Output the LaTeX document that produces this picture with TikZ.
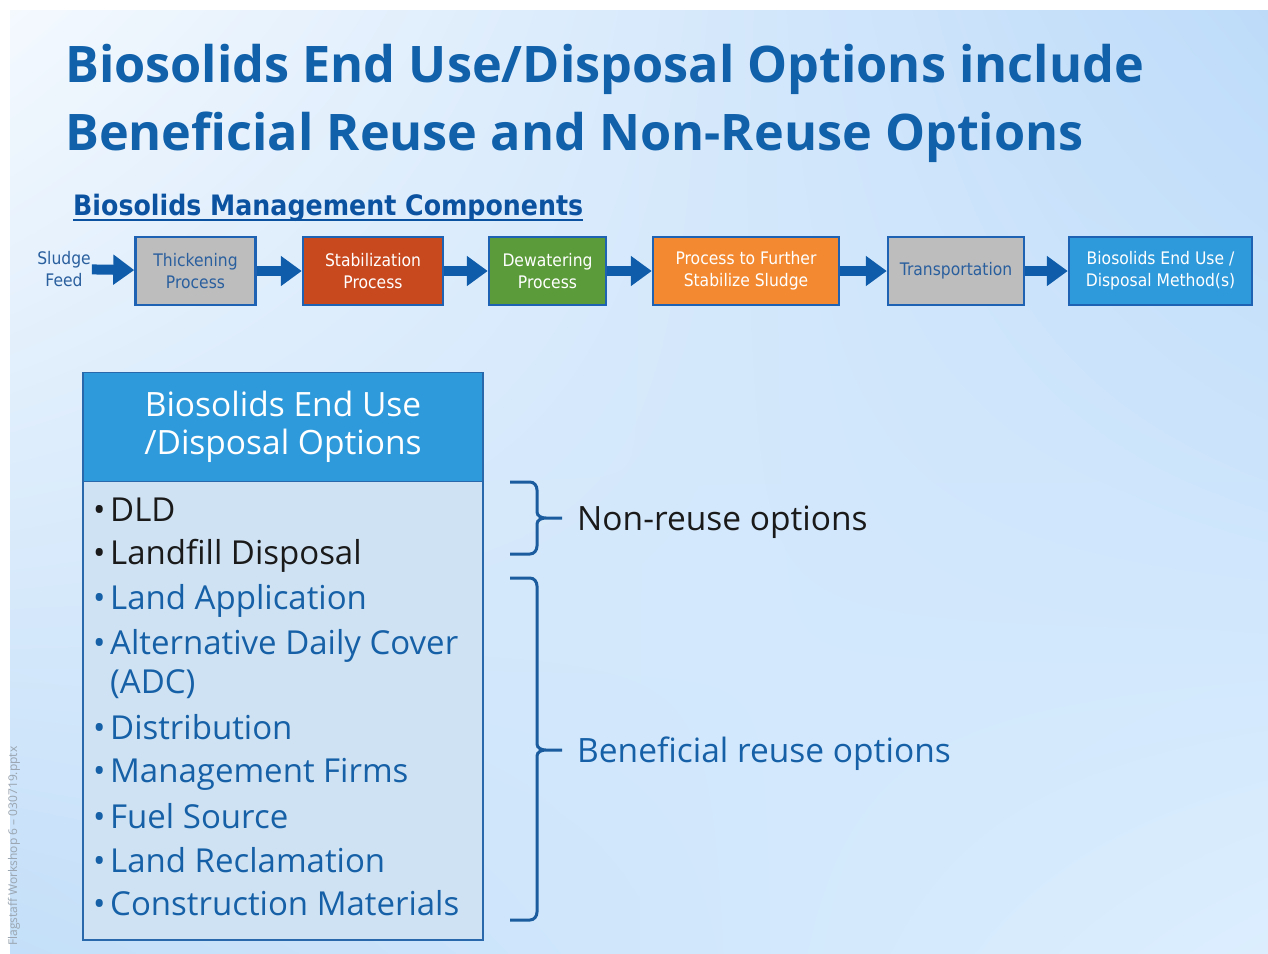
\documentclass[tikz,border=0pt]{standalone}
\usepackage{fontspec}
\setmainfont{Open Sans}
\newfontfamily\tahoma[FakeStretch=0.9]{DejaVu Sans}
\usetikzlibrary{positioning,arrows.meta,shadings}

\definecolor{titleblue}{HTML}{1060AA}
\definecolor{subblue}{HTML}{0B52A0}
\definecolor{boxline}{HTML}{1E62B4}
\definecolor{arrowblue}{HTML}{0F5CAA}
\definecolor{greybox}{HTML}{BDBDBD}
\definecolor{greytext}{HTML}{2A5F9E}
\definecolor{stabred}{HTML}{C9491F}
\definecolor{dewgreen}{HTML}{5B9B3A}
\definecolor{procorange}{HTML}{F38A32}
\definecolor{endblue}{HTML}{2F9ADB}
\definecolor{bodyfill}{HTML}{CFE2F3}
\definecolor{bodyline}{HTML}{2A68AC}
\definecolor{listblue}{HTML}{1560A6}
\definecolor{listblack}{HTML}{1A1A1A}
\definecolor{bracecol}{HTML}{1A5C9E}
\definecolor{footgrey}{HTML}{9AA5B0}
\definecolor{bgA}{HTML}{F4F9FE}
\definecolor{bgB}{HTML}{BDDBF9}
\definecolor{bgC}{HTML}{C4DFF9}
\definecolor{bgD}{HTML}{DCEEFE}

\tikzset{
  stage/.style={draw=boxline, line width=2.5pt, minimum height=68pt, align=center,
    inner sep=2pt, font=\tahoma\fontsize{17.3}{22}\selectfont},
  flow/.style={draw=arrowblue, line width=10pt, -{Triangle[length=21pt,width=29pt]}},
  item/.style={anchor=base west, inner sep=0pt, font=\fontsize{33}{33}\selectfont},
  brace/.style={draw=bracecol, line width=3pt},
  side/.style={anchor=base west, inner sep=0pt, font=\fontsize{33.5}{33.5}\selectfont},
}

\begin{document}
\begin{tikzpicture}[x=1pt, y=-1pt]
\useasboundingbox (0,0) rectangle (1268,953);
\shade[upper left=bgA, upper right=bgB, lower left=bgC, lower right=bgD] (10,10) rectangle (1268,953);

% title
\node[anchor=base west, inner sep=0pt, text=titleblue, font=\bfseries\fontsize{50.4}{50}\selectfont] (title1) at (65,82) {Biosolids End Use/Disposal Options include};
\node[anchor=base west, inner sep=0pt, text=titleblue, font=\bfseries\fontsize{50.4}{50}\selectfont] (title2) at (65,150) {Beneficial Reuse and Non-Reuse Options};

\node[anchor=base west, inner sep=0pt, text=subblue, font=\tahoma\bfseries\fontsize{28.1}{28}\selectfont] (sub) at (73,215) {Biosolids Management Components};
\draw[subblue, line width=2.5pt] ([yshift=-5pt]sub.base west) -- ([yshift=-5pt]sub.base east);

% process chain
\node[align=center, inner sep=1pt, text=greytext, font=\tahoma\fontsize{17.3}{22}\selectfont] (feed) at (64,269) {Sludge\\Feed};
\node[stage, fill=greybox, text=greytext, minimum width=120pt] (thick) at (195.5,271) {Thickening\\Process};
\node[stage, fill=stabred, text=white, minimum width=140pt, right=45pt of thick] (stab) {Stabilization\\Process};
\node[stage, fill=dewgreen, text=white, minimum width=117pt, right=43.5pt of stab] (dew) {Dewatering\\Process};
\node[stage, fill=procorange, text=white, minimum width=186pt, right=44.5pt of dew] (further) {Process to Further\\Stabilize Sludge};
\node[stage, fill=greybox, text=greytext, minimum width=136pt, right=46.5pt of further] (transp) {Transportation};
\node[stage, fill=endblue, text=white, minimum width=183pt, right=42.5pt of transp] (enduse) {Biosolids End Use /\\Disposal Method(s)};

\draw[flow] (feed) -- (thick);
\draw[flow] (thick) -- (stab);
\draw[flow] (stab) -- (dew);
\draw[flow] (dew) -- (further);
\draw[flow] (further) -- (transp);
\draw[flow] (transp) -- (enduse);

% options table
\node[fill=bodyfill, draw=bodyline, line width=1.5pt, minimum width=400pt, minimum height=460pt] (body) at (283,710) {};
\node[fill=endblue, draw=bodyline, line width=1.5pt, minimum width=400pt, minimum height=109pt, text=white, align=center, font=\fontsize{33.5}{38}\selectfont] (head) at (283,427) {Biosolids End Use\\/Disposal Options};

\foreach \y/\c/\b/\t in {521/listblack/•/DLD, 564/listblack/•/Landfill Disposal, 609/listblue/•/Land Application,
    654/listblue/•/Alternative Daily Cover, 693/listblue//(ADC), 739/listblue/•/Distribution,
    782/listblue/•/Management Firms, 828/listblue/•/Fuel Source, 872/listblue/•/Land Reclamation,
    915/listblue/•/Construction Materials}
  \node[item, text=\c] at (93,\y) {\makebox[17pt][l]{\b}\t};

% braces
\draw[brace] (510,482) -- (530,482) to[out=0,in=90] (537,490) -- (537,512) to[out=-90,in=180] (546,518) -- (562,518)
  (546,518) to[out=180,in=90] (537,524) -- (537,546) to[out=-90,in=0] (530,554) -- (510,554);
\draw[brace] (510,578) -- (530,578) to[out=0,in=90] (537,586) -- (537,744) to[out=-90,in=180] (546,750) -- (562,750)
  (546,750) to[out=180,in=90] (537,756) -- (537,912) to[out=-90,in=0] (530,920) -- (510,920);

\node[side, text=listblack] (nonreuse) at (577,530) {Non-reuse options};
\node[side, text=listblue] (reuse) at (577,762) {Beneficial reuse options};

\node[rotate=90, anchor=west, inner sep=0pt, text=footgrey, font=\fontsize{12}{12}\selectfont] (foot) at (14,946) {Flagstaff Workshop 6 -- 030719.pptx};
\end{tikzpicture}
\end{document}
